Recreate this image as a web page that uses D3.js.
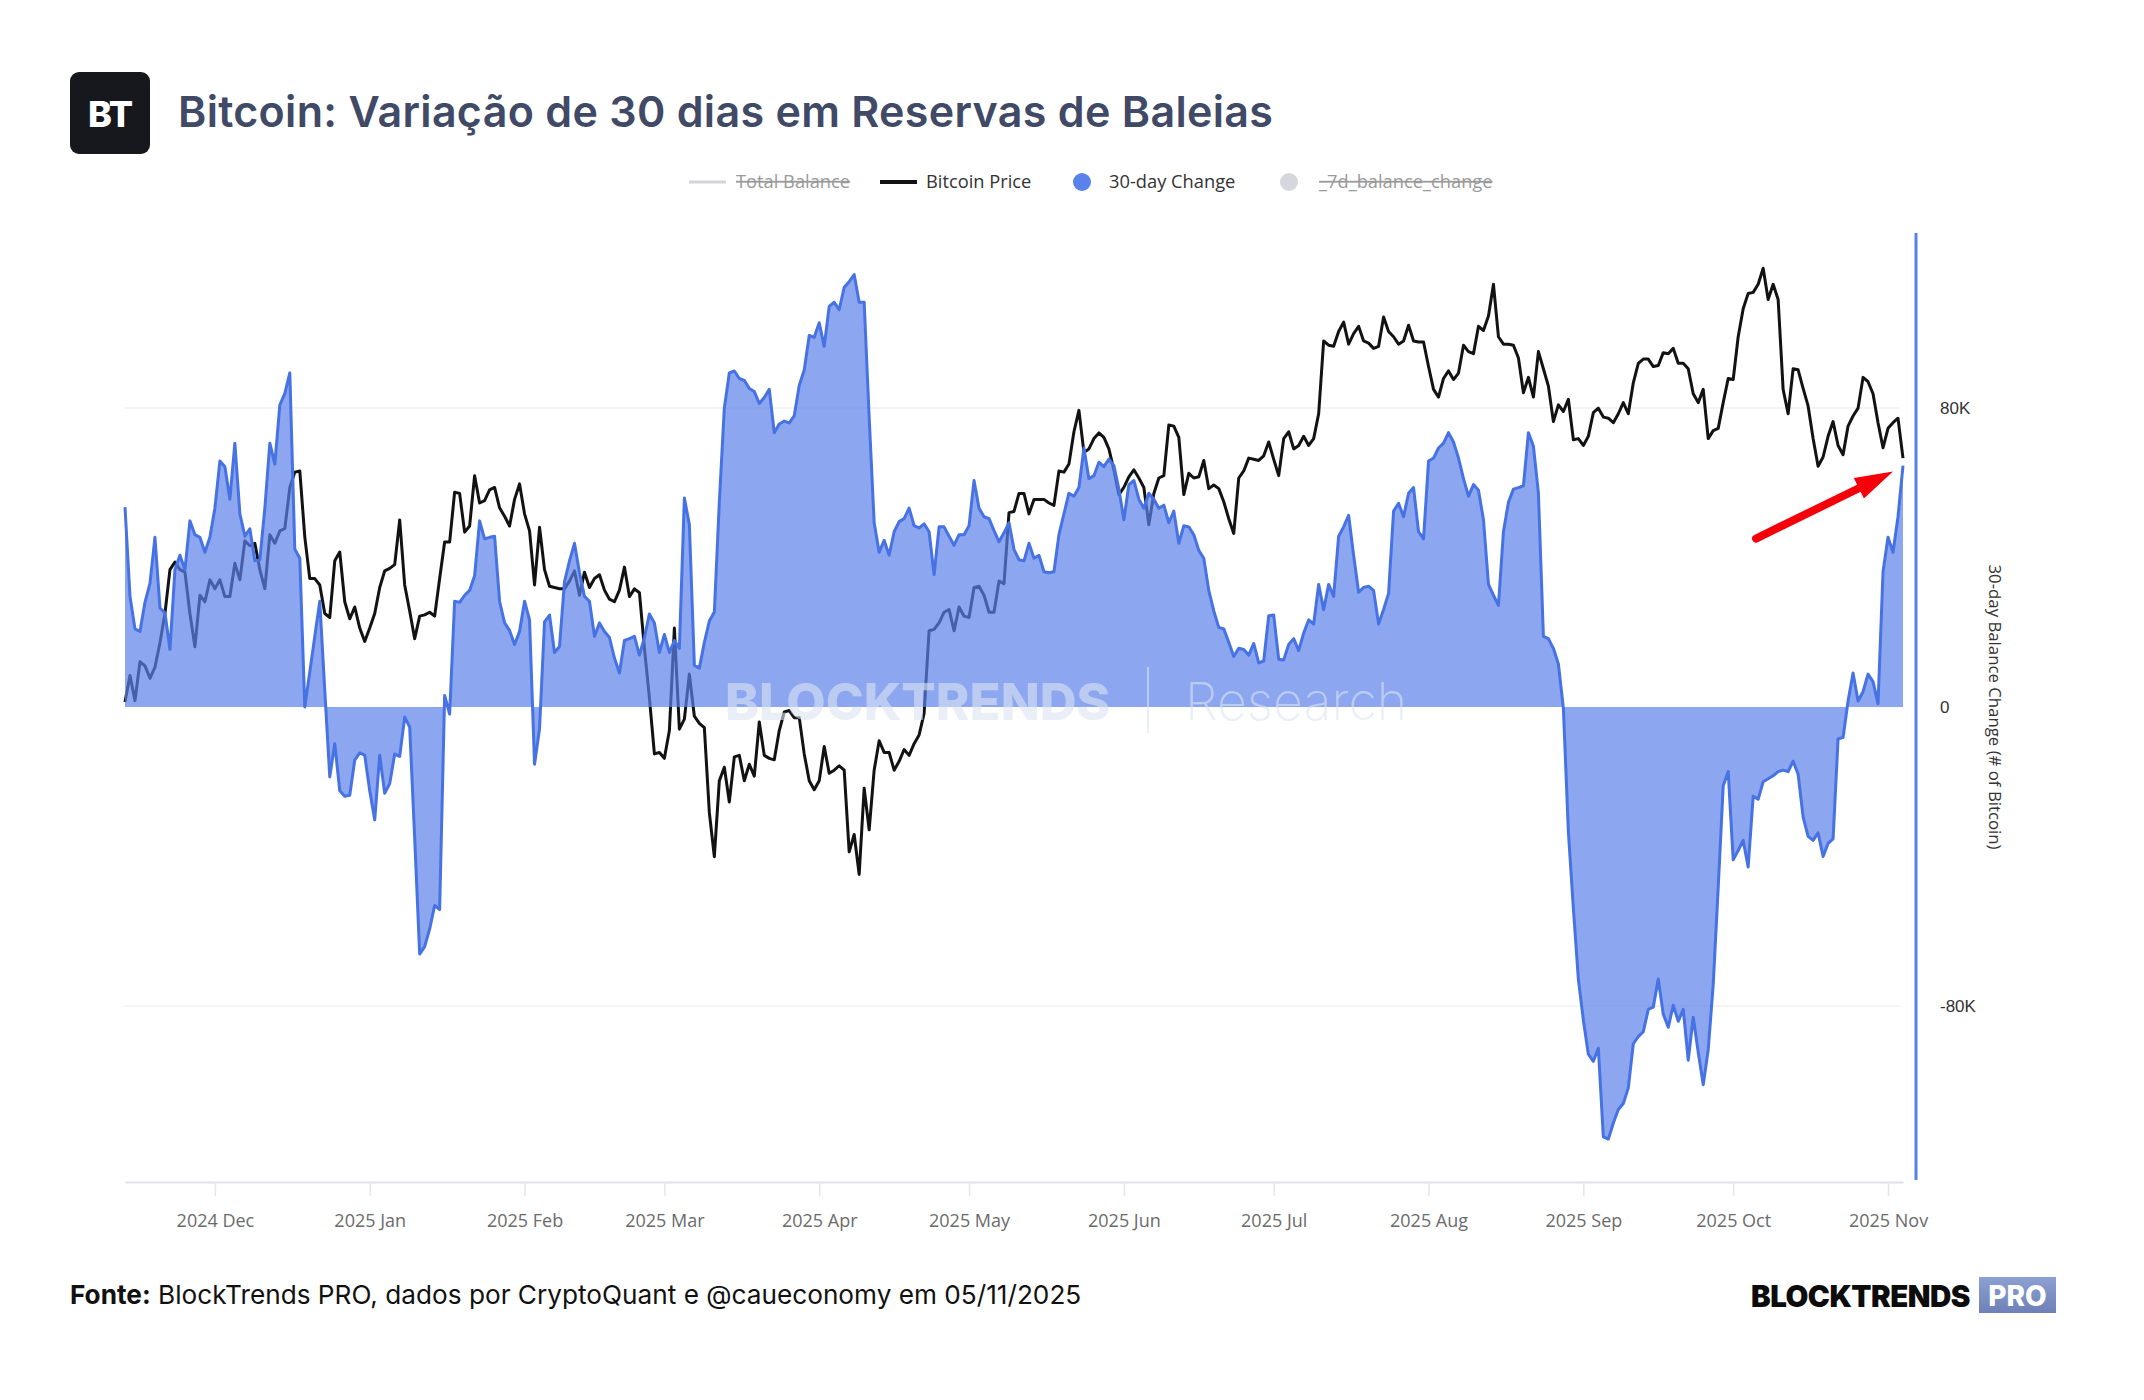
<!DOCTYPE html>
<html>
<head>
<meta charset="utf-8">
<script src="https://cdn.jsdelivr.net/npm/d3@7"></script>
<style>
  body { margin: 0; background: #ffffff; }
</style>
</head>
<body>
<svg id="drawing_region"></svg>
<script>
// daily series, first value is 2024-11-13
const startDate = "2024-11-13";

// Bitcoin price, thousands of USD
const priceK = [
  87.8, 89.7, 87.9, 90.7, 90.4, 89.5, 90.3, 92.1, 94.3, 97.7, 98.3, 97.7, 97.5, 94.3, 91.8, 95.7, 95.2, 96.9,
  96.2, 96.9, 95.6, 95.6, 98.2, 96.9, 100.0, 99.6, 99.8, 97.7,
  96.2, 100.5, 99.8, 100.8, 101.0, 104.4, 105.7, 105.8, 100.3, 97.0,
  97.0, 96.5, 94.3, 94.0, 98.4, 99.1, 95.2, 93.9, 94.8, 93.2,
  92.2, 93.2, 94.3, 96.3, 97.6, 97.8, 98.1, 101.7, 96.5, 94.5,
  92.4, 94.1, 94.2, 94.4, 94.1, 97.0, 99.9, 99.9, 104.0, 103.9,
  100.7, 101.2, 105.4, 103.1, 103.3, 104.2, 104.4, 102.7, 102.0, 101.2,
  103.4, 104.7, 102.2, 100.8, 96.5, 101.1, 97.7, 96.4, 96.3, 96.2,
  96.2, 96.8, 97.6, 95.7, 97.5, 96.3, 97.0, 97.3, 96.1, 95.4,
  95.2, 96.1, 97.9, 95.6, 96.2, 95.9, 91.7, 88.1, 84.2, 84.3,
  83.9, 85.8, 93.2, 85.9, 86.6, 89.8, 86.8, 86.3, 86.0, 80.3,
  77.5, 82.4, 83.3, 81.0, 84.0, 84.1, 82.4, 83.5, 82.7, 86.4,
  84.1, 83.9, 83.8, 85.8, 87.1, 87.2, 86.7, 86.7, 84.2, 82.4,
  81.8, 82.4, 84.7, 82.9, 83.1, 83.4, 83.1, 77.8, 78.9, 76.4,
  81.9, 79.2, 83.1, 85.1, 84.3, 84.3, 83.1, 83.7, 84.5, 84.1,
  84.9, 85.5, 87.0, 93.0, 93.1, 93.6, 94.4, 94.6, 93.0, 94.8,
  94.1, 94.0, 96.3, 96.4, 95.7, 94.4, 94.4, 96.8, 96.6, 102.3,
  102.4, 103.9, 103.9, 102.2, 103.4, 103.4, 103.4, 103.1, 102.9, 105.8,
  105.7, 106.4, 109.2, 111.1, 107.4, 107.7, 108.6, 109.1, 108.7, 107.7,
  105.9, 103.8, 104.4, 105.3, 105.9, 105.2, 104.4, 101.3, 103.9, 105.2,
  105.4, 109.8, 109.7, 108.7, 103.8, 105.6, 105.2, 105.3, 106.7, 104.3,
  104.6, 104.3, 103.2, 101.8, 100.6, 105.2, 105.8, 106.9, 106.8, 106.7,
  107.1, 108.3, 106.8, 105.4, 108.6, 109.2, 107.7, 108.0, 108.8, 108.0,
  108.6, 110.8, 117.5, 117.1, 117.0, 118.4, 119.3, 117.2, 118.2, 118.9,
  117.5, 117.3, 116.8, 117.0, 119.8, 118.4, 117.9, 117.2, 117.5, 119.0,
  117.5, 117.4, 117.4, 115.1, 113.0, 112.3, 114.0, 114.7, 113.9, 114.5,
  117.1, 116.5, 116.3, 118.9, 118.5, 119.9, 123.0, 117.9, 117.2, 117.2,
  117.1, 115.9, 112.7, 114.1, 112.3, 116.5, 114.9, 113.3, 110.1, 111.6,
  111.0, 112.1, 108.5, 108.6, 108.0, 108.8, 110.9, 111.3, 110.5, 110.4,
  110.0, 110.8, 111.8, 110.8, 113.6, 115.4, 115.8, 115.8, 115.1, 115.2,
  116.4, 116.3, 116.8, 115.4, 115.4, 114.9, 112.6, 111.8, 113.0, 108.6,
  109.3, 109.5, 111.8, 114.0, 113.9, 117.9, 120.6, 122.1, 122.2, 123.0,
  124.6, 121.5, 123.0, 121.5, 113.0, 110.8, 114.9, 114.8, 113.1, 111.5,
  108.6, 106.2, 107.0, 108.8, 110.1, 108.0, 107.2, 109.7, 110.6, 111.3,
  114.1, 113.7, 112.6, 110.0, 107.8, 109.5, 110.0, 110.4, 106.9
];

// 30-day whale balance change, thousands of BTC
const changeK = [
  53.5, 29.6, 20.9, 20.2, 28.0, 33.1, 45.4, 26.5, 25.2, 15.4, 36.7, 40.6, 36.7, 49.8, 46.1, 45.4, 41.4, 45.4,
  53.2, 65.8, 64.3, 55.6, 70.6, 51.7, 45.7, 47.7, 39.1, 39.4,
  53.2, 70.6, 65.0, 80.8, 83.9, 89.4, 42.2, 39.8, 0, 9.4,
  18.9, 28.3, 4.4, -18.7, -9.8, -22.4, -23.9, -23.6, -14.2, -12.3,
  -12.9, -22.4, -30.2, -12.9, -23.1, -20.5, -12.6, -13.2, -2.7, -5.4,
  -35.0, -66.1, -64.1, -59.4, -53.1, -54.2, 3.1, -1.9, 28.3, 28.0,
  29.9, 31.2, 35.1, 49.8, 45.0, 45.4, 45.7, 28.3, 22.5, 20.5,
  16.7, 20.2, 28.3, 23.3, -15.3, -5.8, 22.8, 24.6, 14.6, 16.2,
  33.5, 39.1, 43.8, 35.9, 29.6, 28.3, 18.9, 22.5, 20.2, 18.6,
  13.1, 9.1, 17.8, 18.3, 18.9, 13.9, 18.6, 24.9, 22.5, 14.6,
  19.4, 14.6, 17.8, 15.7, 55.9, 48.8, 11.2, 10.4, 17.3, 23.0,
  25.4, 54.8, 80.0, 89.4, 89.9, 87.9, 87.4, 85.2, 84.4, 81.2,
  82.8, 85.0, 73.4, 75.7, 76.5, 76.0, 77.9, 86.0, 90.2, 99.4,
  98.9, 102.8, 96.5, 107.2, 108.3, 106.3, 112.3, 113.8, 115.7, 108.3,
  108.3, 77.6, 49.3, 41.4, 44.6, 40.6, 46.9, 49.6, 50.4, 53.2,
  48.5, 47.9, 49.0, 46.9, 35.4, 48.2, 48.2, 45.7, 43.3, 46.1,
  46.1, 48.5, 60.6, 53.2, 50.9, 50.4, 47.2, 44.2, 46.6, 49.3,
  42.2, 39.4, 39.1, 43.8, 39.8, 40.6, 36.2, 35.9, 36.2, 46.1,
  51.7, 57.2, 56.4, 58.7, 69.3, 61.1, 61.9, 65.5, 64.3, 66.3,
  64.6, 58.3, 50.1, 59.5, 60.6, 55.6, 53.2, 57.2, 55.6, 53.2,
  54.0, 49.3, 52.4, 43.8, 48.5, 48.2, 46.1, 41.9, 39.8, 31.2,
  25.7, 21.3, 20.9, 17.3, 13.5, 15.7, 15.4, 13.9, 17.0, 11.8,
  12.3, 24.4, 24.6, 12.8, 12.6, 16.7, 18.3, 15.1, 19.8, 23.3,
  22.2, 32.8, 26.0, 32.8, 29.6, 45.7, 48.2, 51.3, 40.6, 30.7,
  32.0, 32.3, 31.2, 22.2, 26.1, 30.4, 52.4, 54.5, 50.9, 57.2,
  58.7, 46.9, 45.0, 65.8, 66.6, 69.3, 70.6, 73.4, 70.9, 66.6,
  61.1, 56.4, 59.5, 58.0, 50.1, 32.8, 29.9, 27.2, 46.9, 54.8,
  58.3, 58.7, 59.2, 73.4, 69.8, 57.2, 18.9, 18.3, 15.7, 11.5,
  -0.3, -33.4, -53.9, -72.8, -83.8, -92.9, -94.8, -91.3, -115.0, -115.6,
  -111.3, -107.7, -106.1, -101.9, -90.1, -88.2, -86.9, -80.9, -80.3, -72.8,
  -82.2, -85.7, -79.8, -84.1, -80.9, -94.5, -83.0, -92.4, -101.1, -91.7,
  -74.3, -48.3, -21.1, -17.3, -40.9, -38.4, -35.7, -42.8, -23.9, -24.7,
  -20.0, -19.2, -18.4, -17.3, -16.9, -17.3, -14.5, -18.0, -29.4, -34.6,
  -35.7, -33.7, -40.0, -36.5, -35.3, -8.5, -8.2, 1.6, 9.1, 1.6,
  4.1, 8.8, 6.8, 0.9, 36.2, 45.4, 41.4, 50.9, 64.6
];

const monthTicks = ["2024-12-01", "2025-01-01", "2025-02-01", "2025-03-01", "2025-04-01", "2025-05-01",
  "2025-06-01", "2025-07-01", "2025-08-01", "2025-09-01", "2025-10-01", "2025-11-01"];
const monthLabels = ["2024 Dec", "2025 Jan", "2025 Feb", "2025 Mar", "2025 Apr", "2025 May",
  "2025 Jun", "2025 Jul", "2025 Aug", "2025 Sep", "2025 Oct", "2025 Nov"];

const changeTicks = [-80000, 0, 80000];
const changeTickLabels = ["-80K", "0", "80K"];

const legendNames = ["Total Balance", "Bitcoin Price", "30-day Change", "_7d_balance_change"];

const titleText = "Bitcoin: Variação de 30 dias em Reservas de Baleias";
const sourceText = "BlockTrends PRO, dados por CryptoQuant e @caueconomy em 05/11/2025";


class WhaleChart {

    constructor( config ) {
        this.config = config;
        this.init();
    }

    init() {
        let self = this;
        const c = self.config;

        self.svg = d3.select( c.parent )
            .attr('width', c.width)
            .attr('height', c.height)
            .style('display', 'block');

        const parse = d3.utcParse("%Y-%m-%d");
        const start = parse(startDate);
        self.data = changeK.map( (v, i) => ({
            date: d3.utcDay.offset(start, i),
            change: v * 1000,
            price: priceK[i] * 1000
        }));

        self.xscale = d3.scaleUtc()
            .domain(d3.extent(self.data, d => d.date))
            .range([c.plot.left, c.plot.right]);

        self.yscale = d3.scaleLinear()
            .domain([-80000, 80000])
            .range([1006, 408]);

        // price axis is hidden, log scale
        self.pscale = d3.scaleLog()
            .domain([59700, 128200])
            .range([c.plot.bottom, c.plot.top]);

        self.monthDates = monthTicks.map(parse);
    }

    render() {
        let self = this;
        const c = self.config;
        const svg = self.svg;

        // header
        svg.append('rect')
            .attr('x', 70).attr('y', 72)
            .attr('width', 80).attr('height', 82)
            .attr('rx', 9)
            .attr('fill', '#16181e');
        svg.append('text')
            .attr('x', 110).attr('y', 127)
            .attr('text-anchor', 'middle')
            .attr('font-family', 'Inter')
            .attr('font-weight', 800)
            .attr('font-size', '36px')
            .attr('letter-spacing', '-1px')
            .attr('fill', '#ffffff')
            .text('BT');
        svg.append('text')
            .attr('x', 178).attr('y', 127)
            .attr('font-family', 'Inter')
            .attr('font-weight', 600)
            .attr('font-size', '43px')
            .attr('letter-spacing', '0.3px')
            .attr('fill', '#404966')
            .text(titleText);

        // legend
        const ly = 182;
        const lg = svg.append('g')
            .attr('font-family', '"Open Sans"')
            .attr('font-size', '18.3px');
        lg.append('line').attr('x1', 689).attr('x2', 726).attr('y1', ly).attr('y2', ly)
            .attr('stroke', '#d4d4d8').attr('stroke-width', 3);
        lg.append('line').attr('x1', 880).attr('x2', 917).attr('y1', ly).attr('y2', ly)
            .attr('stroke', '#111111').attr('stroke-width', 4);
        lg.append('circle').attr('cx', 1082).attr('cy', ly).attr('r', 9).attr('fill', '#5a82ea');
        lg.append('circle').attr('cx', 1289).attr('cy', ly).attr('r', 9).attr('fill', '#d6d6de');
        const lx = [736, 926, 1109, 1319];
        legendNames.forEach( (name, i) => {
            const off = (i === 0 || i === 3);
            lg.append('text')
                .attr('x', lx[i]).attr('y', ly)
                .attr('dy', '0.35em')
                .attr('fill', off ? '#9a9a9a' : '#333333')
                .attr('text-decoration', off ? 'line-through' : null)
                .text(name);
        });

        // grid lines
        svg.append('g')
            .selectAll('line')
            .data([-80000, 80000])
            .join('line')
            .attr('x1', c.plot.left - 1).attr('x2', c.plot.right - 3)
            .attr('y1', d => self.yscale(d)).attr('y2', d => self.yscale(d))
            .attr('stroke', '#f1f1f1')
            .attr('stroke-width', 1.5);

        // x axis
        const xaxis = d3.axisBottom(self.xscale)
            .tickValues(self.monthDates)
            .tickFormat( (d, i) => monthLabels[i] )
            .tickSize(14)
            .tickSizeOuter(0)
            .tickPadding(18);
        const xg = svg.append('g')
            .attr('transform', `translate(0, ${c.plot.bottom + 2})`)
            .call(xaxis);
        xg.select('.domain').attr('stroke', '#e2e2e6').attr('stroke-width', 2);
        xg.selectAll('.tick line').attr('stroke', '#e6e6ea').attr('stroke-width', 1.5);
        xg.selectAll('.tick text')
            .attr('font-family', '"Open Sans"')
            .attr('font-size', '18px')
            .attr('fill', '#6b6b6b');

        // price line (drawn below the area)
        const priceLine = d3.line()
            .x(d => self.xscale(d.date))
            .y(d => self.pscale(d.price));
        svg.append('path')
            .datum(self.data)
            .attr('fill', 'none')
            .attr('stroke', '#121212')
            .attr('stroke-width', 3)
            .attr('stroke-linejoin', 'round')
            .attr('d', priceLine);

        // 30-day change area
        const area = d3.area()
            .x(d => self.xscale(d.date))
            .y0(self.yscale(0))
            .y1(d => self.yscale(d.change));
        svg.append('path')
            .datum(self.data)
            .attr('fill', '#5b80e9')
            .attr('fill-opacity', 0.7)
            .attr('d', area);

        const changeLine = d3.line()
            .x(d => self.xscale(d.date))
            .y(d => self.yscale(d.change));
        svg.append('path')
            .datum(self.data)
            .attr('fill', 'none')
            .attr('stroke', '#4672e4')
            .attr('stroke-width', 3)
            .attr('stroke-linejoin', 'round')
            .attr('d', changeLine);

        // watermark
        const wm = svg.append('g').attr('fill', '#dde5f2').attr('opacity', 0.6);
        wm.append('text')
            .attr('x', 725).attr('y', 720)
            .attr('font-family', 'Inter').attr('font-weight', 800)
            .attr('font-size', '51px')
            .text('BLOCKTRENDS');
        wm.append('line')
            .attr('x1', 1148).attr('x2', 1148).attr('y1', 667).attr('y2', 733)
            .attr('stroke', '#dde5f2').attr('stroke-width', 2);
        wm.append('text')
            .attr('x', 1185).attr('y', 720)
            .attr('font-family', 'Inter').attr('font-weight', 200)
            .attr('font-size', '52px')
            .text('Research');

        // right axis
        const axisX = 1916;
        svg.append('line')
            .attr('x1', axisX).attr('x2', axisX)
            .attr('y1', c.plot.top).attr('y2', c.plot.bottom)
            .attr('stroke', '#5a80ea').attr('stroke-width', 3);
        const yaxis = d3.axisRight(self.yscale)
            .tickValues(changeTicks)
            .tickFormat( (d, i) => changeTickLabels[i] )
            .tickSize(0)
            .tickPadding(24);
        const yg = svg.append('g')
            .attr('transform', `translate(${axisX}, 0)`)
            .call(yaxis);
        yg.select('.domain').remove();
        yg.selectAll('.tick text')
            .attr('font-family', '"Liberation Sans"')
            .attr('font-size', '17px')
            .attr('fill', '#333333');
        svg.append('text')
            .attr('transform', `translate(1995, ${self.yscale(0)}) rotate(90)`)
            .attr('text-anchor', 'middle')
            .attr('dy', '0.35em')
            .attr('font-family', '"Open Sans"')
            .attr('font-size', '16.8px')
            .attr('fill', '#333333')
            .text('30-day Balance Change (# of Bitcoin)');

        // red arrow pointing at the last value
        const last = self.data[self.data.length - 1];
        const tip = [self.xscale(last.date) - 10, self.yscale(last.change) + 6];
        const tail = [tip[0] - 137, tip[1] + 67];
        const len = Math.hypot(tip[0] - tail[0], tip[1] - tail[1]);
        const ux = (tip[0] - tail[0]) / len, uy = (tip[1] - tail[1]) / len;
        const headLen = 38, headHalf = 11.5;
        const base = [tip[0] - ux * headLen, tip[1] - uy * headLen];
        svg.append('line')
            .attr('x1', tail[0]).attr('y1', tail[1])
            .attr('x2', base[0] + ux * 4).attr('y2', base[1] + uy * 4)
            .attr('stroke', '#f5000a').attr('stroke-width', 8)
            .attr('stroke-linecap', 'round');
        svg.append('path')
            .attr('d', `M${tip[0]},${tip[1]}L${base[0] - uy * headHalf},${base[1] + ux * headHalf}L${base[0] + uy * headHalf},${base[1] - ux * headHalf}Z`)
            .attr('fill', '#f5000a');

        // footer
        const ft = svg.append('text')
            .attr('x', 70).attr('y', 1304)
            .attr('font-family', 'Inter')
            .attr('font-size', '26.2px')
            .attr('fill', '#111111');
        ft.append('tspan').attr('font-weight', 700).text('Fonte:');
        ft.append('tspan').attr('font-weight', 400).text(' ' + sourceText);

        svg.append('text')
            .attr('x', 1970).attr('y', 1307)
            .attr('text-anchor', 'end')
            .attr('font-family', 'Inter')
            .attr('font-weight', 900)
            .attr('font-size', '29.5px')
            .attr('letter-spacing', '-0.5px')
            .attr('fill', '#0c0c0c')
            .text('BLOCKTRENDS');
        const grad = svg.append('defs').append('linearGradient')
            .attr('id', 'proGrad').attr('x1', 0).attr('y1', 0).attr('x2', 0).attr('y2', 1);
        grad.append('stop').attr('offset', '0%').attr('stop-color', '#8da0d2');
        grad.append('stop').attr('offset', '100%').attr('stop-color', '#6e80b5');
        svg.append('rect')
            .attr('x', 1979).attr('y', 1277)
            .attr('width', 77).attr('height', 36)
            .attr('fill', 'url(#proGrad)');
        svg.append('text')
            .attr('x', 2017.5).attr('y', 1306)
            .attr('text-anchor', 'middle')
            .attr('font-family', 'Inter')
            .attr('font-weight', 800)
            .attr('font-size', '28px')
            .attr('fill', '#ffffff')
            .text('PRO');
    }
}

const chart = new WhaleChart({
    parent: '#drawing_region',
    width: 2144,
    height: 1400,
    plot: { left: 125, right: 1903, top: 233, bottom: 1180 }
});
chart.render();
</script>
</body>
</html>
